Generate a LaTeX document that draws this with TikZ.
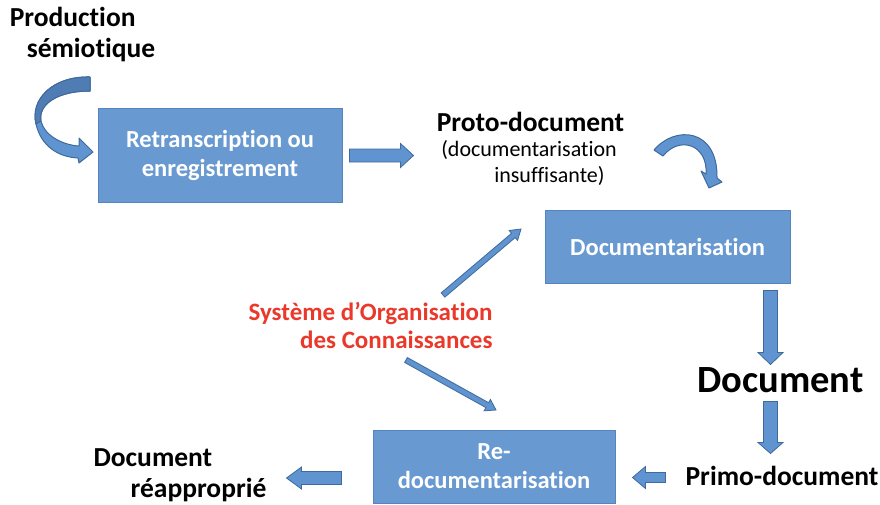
\documentclass[tikz,border=0pt]{standalone}
\usepackage{fontspec}
\setmainfont{Carlito}[Ligatures={NoCommon}]
\usetikzlibrary{calc}

\definecolor{boxblue}{RGB}{104,153,209}
\definecolor{boxedge}{RGB}{86,132,192}
\definecolor{arrowblue}{RGB}{96,148,208}
\definecolor{arrowdark}{RGB}{80,124,180}
\definecolor{arrowedge}{RGB}{62,106,156}
\definecolor{socred}{RGB}{234,56,42}

% block arrow between two coordinates: from, to, shaft half width, head half width, head length
\newcommand{\flowarrow}[5]{%
  \coordinate (fa-b) at ($(#2)!#5!(#1)$);
  \draw[blockarrow]
    ($(#1)!#3!90:(#2)$) -- ($(fa-b)!#3!-90:(#1)$) -- ($(fa-b)!#4!-90:(#1)$) -- (#2)
    -- ($(fa-b)!#4!90:(#1)$) -- ($(fa-b)!#3!90:(#1)$) -- ($(#1)!#3!-90:(#2)$) -- cycle;
}

\begin{document}
\begin{tikzpicture}[
    x=1pt, y=-1pt,
    stagebox/.style={draw=boxedge, fill=boxblue, line width=1pt, text=white,
      font=\fontsize{24.5}{29}\selectfont\bfseries, align=center, inner sep=0pt},
    lbl/.style={font=\fontsize{27.5}{31}\selectfont\bfseries, inner sep=0pt},
    note/.style={font=\fontsize{22}{26}\selectfont, inner sep=0pt, align=left},
    blockarrow/.style={draw=arrowedge, fill=arrowblue, line width=0.8pt, line join=miter},
    curvedarrow/.style={draw=arrowedge, fill=arrowblue, line width=1pt, line join=round}
]
    \useasboundingbox (0,0) rectangle (880,504);

    % Boxes
    \node[stagebox, minimum width=244, minimum height=94] (retrans) at (220,155)
        {Retranscription ou\\enregistrement};
    \node[stagebox, minimum width=245, minimum height=73] (docu) at (667.5,246.5)
        {Documentarisation};
    \node[stagebox, minimum width=242, minimum height=73] (redoc) at (494,466.5)
        {Re-\\documentarisation};

    % Labels
    \node[lbl, align=left] (prod) at (82.5,35) {Production\\\hspace*{17pt}sémiotique};
    \node[lbl] (proto) at (530.5,122) {Proto-document};
    \node[note] (protonote) at (529,163) {(documentarisation\\\hspace*{53pt}insuffisante)};
    \node[font=\fontsize{38.5}{44}\selectfont\bfseries, inner sep=0pt] (doc) at (780.5,380) {Document};
    \node[lbl] (primo) at (782,476) {Primo-document};
    \node[lbl, align=left] (reapp) at (180,475) {Document\\\hspace*{37pt}réapproprié};
    \node[lbl, align=right, text=socred, font=\fontsize{25}{28}\selectfont\bfseries] (soc) at (370.5,325)
        {Système d’Organisation\\des Connaissances};

    % Straight block arrows
    \coordinate (a1s) at ($(retrans.east)+(7,0.5)$);
    \coordinate (a1e) at ($(retrans.east)+(71,0.5)$);
    \flowarrow{a1s}{a1e}{6.5pt}{12pt}{13pt}

    \coordinate (d1s) at ($(docu.south east)+(-20,7)$);
    \coordinate (d1e) at ($(docu.south east)+(-20,81)$);
    \flowarrow{d1s}{d1e}{7pt}{12.5pt}{12pt}

    \coordinate (d2s) at ($(d1s)+(0,111)$);
    \coordinate (d2e) at ($(d1s)+(0,163)$);
    \flowarrow{d2s}{d2e}{7pt}{12.5pt}{11pt}

    \coordinate (p1s) at ($(redoc.east)+(50,11)$);
    \coordinate (p1e) at ($(redoc.east)+(17,11)$);
    \flowarrow{p1s}{p1e}{5pt}{11pt}{13pt}

    \coordinate (r1s) at ($(redoc.west)+(-31,11.5)$);
    \coordinate (r1e) at ($(redoc.west)+(-86,11.5)$);
    \flowarrow{r1s}{r1e}{6.5pt}{11pt}{15pt}

    % Thin arrows from the SOC
    \coordinate (s1s) at (443,295);
    \coordinate (s1e) at (521,229);
    \flowarrow{s1s}{s1e}{2.8pt}{6.5pt}{10pt}
    \coordinate (s2s) at (406,360);
    \coordinate (s2e) at (496,410);
    \flowarrow{s2s}{s2e}{2.8pt}{6.5pt}{10pt}

    % Curved arrow into the first box
    \draw[curvedarrow] (90,77) .. controls (52,76) and (30,100) .. (36,124)
        .. controls (41,146) and (58,157) .. (78,158) -- (79,163) -- (93,152) -- (79,138) -- (79,146)
        .. controls (62,145) and (44,135) .. (41,121) .. controls (38,104) and (58,91) .. (90,91) -- cycle;
    \draw[curvedarrow, fill=arrowdark] (90,77) .. controls (52,76) and (30,100) .. (36,124)
        -- (41,121) .. controls (38,104) and (58,91) .. (90,91) -- cycle;

    % Curved arrow into Documentarisation
    \draw[curvedarrow] (654,150) .. controls (675,125) and (718,128) .. (717,178)
        -- (722,182) -- (709,188) -- (701,171) -- (706,174)
        .. controls (708,145) and (680,135) .. (663,156) -- cycle;
\end{tikzpicture}
\end{document}
